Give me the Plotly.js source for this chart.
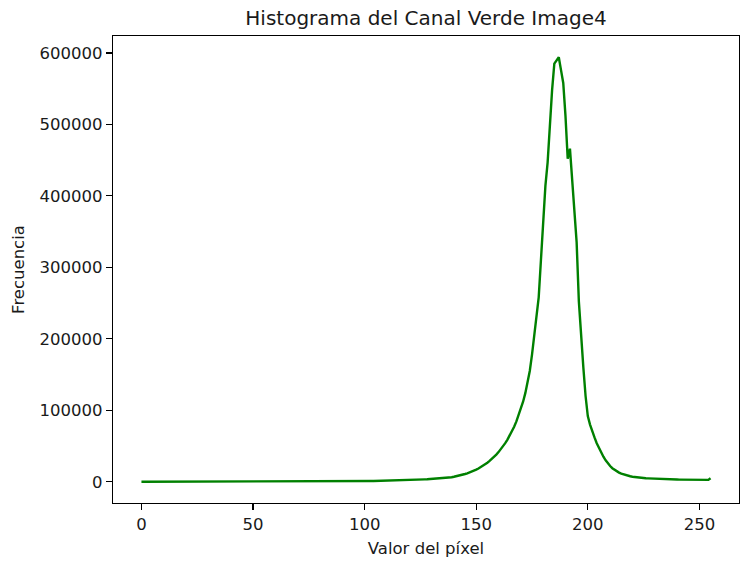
<!DOCTYPE html>
<html>
<head>
<meta charset="utf-8">
<script src="https://cdn.plot.ly/plotly-3.0.1.min.js"></script>
<style>html,body{margin:0;padding:0;background:#fff;}#chart{width:743px;height:563px;}</style>
</head>
<body>
<div id="chart"></div>
<script>
// Pixel values 0..255
const pixelValues = Array.from({length: 256}, (_, i) => i);

// Frequencies per pixel value
const freq0_49 = [
  0,0,0,0,0,0,0,0,0,0,
  0,0,0,0,0,0,0,0,0,0,
  10,10,10,10,10,20,20,20,20,20,
  30,30,30,30,40,40,40,40,50,50,
  50,60,60,60,70,70,70,80,80,90
];
const freq50_99 = [
  90,100,100,110,110,120,120,130,140,140,
  150,160,160,170,180,190,200,210,220,230,
  240,250,260,280,290,300,320,330,350,370,
  380,400,420,440,460,480,500,520,550,570,
  600,620,650,680,710,740,770,800,840,880
];
const freq100_139 = [
  920,960,1000,1050,1100,1150,1200,1260,1320,1380,
  1450,1520,1600,1680,1760,1850,1950,2050,2150,2260,
  2370,2490,2610,2740,2880,3020,3170,3320,3480,3650,
  3820,4000,4200,4400,4600,4850,5100,5400,5800,6300
];
const freq140_179 = [
  7000,7600,8300,9000,9900,10900,11900,13000,14200,15500,
  17000,18600,20300,22200,24300,26600,29100,31800,34800,38000,
  41500,45300,49500,54000,59000,64500,70500,77000,84500,93000,
  102000,112000,124000,138000,155000,178000,205000,230000,258000,310000
];
const freq180_219 = [
  365000,414000,447000,505000,548000,585000,590000,594000,576000,558000,
  512000,452000,466000,420000,378000,335000,252000,198000,160000,120000,
  92000,80000,70000,62000,54000,47000,41000,35000,30000,25500,
  22000,19000,16500,14500,12800,11400,10200,9200,8400,7700
];
const freq220_255 = [
  7100,6600,6200,5800,5500,5200,5000,4800,4600,4400,
  4200,4000,3900,3800,3700,3600,3500,3400,3300,3200,
  3100,3000,2900,2800,2700,2650,2600,2550,2500,2450,
  2400,2350,2300,2300,2600,5000
];
const frequencies = [].concat(freq0_49, freq50_99, freq100_139, freq140_179, freq180_219, freq220_255);

const xTicks = [0, 50, 100, 150, 200, 250];
const yTicks = [0, 100000, 200000, 300000, 400000, 500000, 600000];

const trace = {
  x: pixelValues,
  y: frequencies,
  type: 'scatter',
  mode: 'lines',
  line: {color: '#008000', width: 2.4},
  hoverinfo: 'skip'
};

const fontFam = 'DejaVu Sans, sans-serif';
const txt = '#1a1a1a';
const layout = {
  width: 743, height: 563,
  margin: {l: 113, r: 4, t: 36, b: 60, pad: 0},
  paper_bgcolor: '#ffffff',
  plot_bgcolor: '#ffffff',
  showlegend: false,
  font: {family: fontFam, size: 17, color: txt},
  title: {text: 'Histograma del Canal Verde Image4', font: {family: fontFam, size: 20, color: txt}, x: 426 / 743, xanchor: 'center', y: 1 - 18 / 563, yanchor: 'middle'},
  xaxis: {
    range: [-12.75, 267.75],
    tickvals: xTicks,
    ticktext: xTicks.map(String),
    ticks: 'outside', ticklen: 6, tickwidth: 1.2, tickcolor: '#000',
    showgrid: false, zeroline: false,
    showline: true, linecolor: '#000', linewidth: 1.2, mirror: true,
    tickfont: {family: fontFam, size: 16.5, color: txt},
    title: {text: 'Valor del píxel', font: {family: fontFam, size: 16.5, color: txt}, standoff: 9},
    automargin: false
  },
  yaxis: {
    range: [-29700, 623700],
    tickvals: yTicks,
    ticktext: yTicks.map(String),
    ticks: 'outside', ticklen: 6, tickwidth: 1.2, tickcolor: '#000',
    showgrid: false, zeroline: false,
    showline: true, linecolor: '#000', linewidth: 1.2, mirror: true,
    tickfont: {family: fontFam, size: 16.5, color: txt},
    title: {text: 'Frecuencia', font: {family: fontFam, size: 16.5, color: txt}, standoff: 10},
    automargin: false
  }
};

Plotly.newPlot('chart', [trace], layout, {displayModeBar: false, staticPlot: true});
</script>
</body>
</html>
